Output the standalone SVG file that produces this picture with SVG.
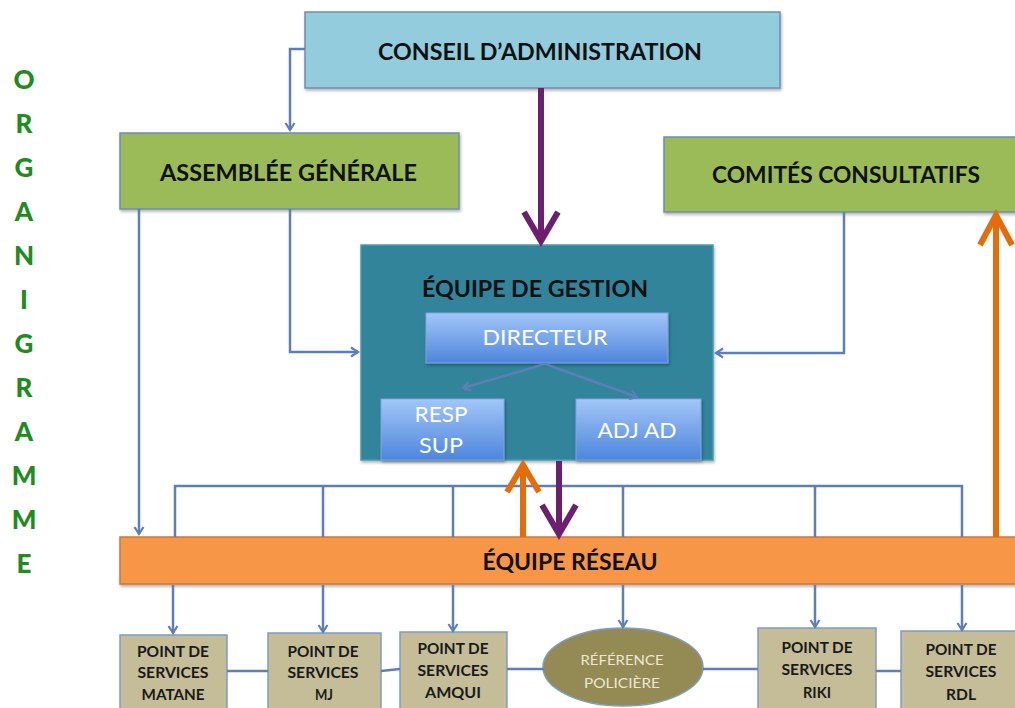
<svg xmlns="http://www.w3.org/2000/svg" width="1015" height="708" viewBox="0 0 1015 708">
  <style>
    .t { font-family: Lato, "Open Sans", "Liberation Sans", sans-serif; font-weight: bold; fill: #111; text-anchor: middle; }
    .big { font-size: 23px; }
    .w { font-family: Lato, "Open Sans", "Liberation Sans", sans-serif; fill: #fff; text-anchor: middle; font-size: 22px; }
    .sm { font-family: Lato, "Open Sans", "Liberation Sans", sans-serif; font-weight: bold; fill: #1a1a1a; text-anchor: middle; font-size: 15px; }
    .el { font-family: Lato, "Open Sans", "Liberation Sans", sans-serif; fill: #ece8d4; text-anchor: middle; font-size: 14px; }
    .let { font-family: Lato, "Open Sans", "Liberation Sans", sans-serif; font-weight: 900; fill: #218a21; text-anchor: middle; font-size: 26px; }
    .conn { fill: none; stroke: #5b7fb6; stroke-width: 2.5; }
    .arr { marker-end: url(#ah); }
    .purple { fill: none; stroke: #6c1f6f; stroke-width: 6; }
    .orange { fill: none; stroke: #e46c0a; stroke-width: 6; }
    .svc { fill: #c4bd97; stroke: #7d9cc2; stroke-width: 1.5; }
    .green { fill: #9bbb59; stroke: #6d8fb3; stroke-width: 1.5; }
    .sub { fill: url(#bg); stroke: #7fa5de; stroke-width: 1; }
  </style>
  <defs>
    <linearGradient id="bg" x1="0" y1="0" x2="0" y2="1">
      <stop offset="0" stop-color="#a3c6f8"/>
      <stop offset="1" stop-color="#4d86dc"/>
    </linearGradient>
    <filter id="sh" x="-5%" y="-5%" width="115%" height="125%">
      <feDropShadow dx="1" dy="2" stdDeviation="1.5" flood-color="#000" flood-opacity="0.3"/>
    </filter>
    <marker id="ah" markerWidth="12" markerHeight="12" refX="9" refY="6" orient="auto" markerUnits="userSpaceOnUse">
      <path d="M2,1.5 L9,6 L2,10.5" fill="none" stroke="#5b7fb6" stroke-width="2.2"/>
    </marker>
  </defs>

  <rect width="1015" height="708" fill="#fff"/>

  <g id="title">
    <text class="let" x="24" y="89">O</text>
    <text class="let" x="24" y="133">R</text>
    <text class="let" x="24" y="177">G</text>
    <text class="let" x="24" y="221">A</text>
    <text class="let" x="24" y="265">N</text>
    <text class="let" x="24" y="309">I</text>
    <text class="let" x="24" y="353">G</text>
    <text class="let" x="24" y="397">R</text>
    <text class="let" x="24" y="441">A</text>
    <text class="let" x="24" y="485">M</text>
    <text class="let" x="24" y="529">M</text>
    <text class="let" x="24" y="573">E</text>
  </g>

  <g id="conseil">
    <rect x="305" y="12" width="475" height="76" fill="#93cddd" stroke="#6d8fb3" stroke-width="1.5" filter="url(#sh)"/>
    <text class="t big" x="540" y="60" textLength="324" lengthAdjust="spacingAndGlyphs">CONSEIL D’ADMINISTRATION</text>
  </g>

  <g id="assemblee">
    <rect class="green" x="120" y="133" width="339" height="76" filter="url(#sh)"/>
    <text class="t big" x="288.5" y="181" textLength="257" lengthAdjust="spacingAndGlyphs">ASSEMBLÉE GÉNÉRALE</text>
  </g>

  <g id="comites">
    <rect class="green" x="664" y="137" width="355" height="75" filter="url(#sh)"/>
    <text class="t big" x="846" y="183" textLength="268" lengthAdjust="spacingAndGlyphs">COMITÉS CONSULTATIFS</text>
  </g>

  <g id="gestion">
    <rect x="361" y="245" width="352" height="215" fill="#31849b" stroke="#4a9ab0" stroke-width="1.5" filter="url(#sh)"/>
    <text class="t big" x="535" y="297" textLength="226" lengthAdjust="spacingAndGlyphs">ÉQUIPE DE GESTION</text>
  </g>

  <g id="directeur">
    <rect class="sub" x="426" y="313" width="242" height="50" filter="url(#sh)"/>
    <text class="w" x="545" y="345" textLength="125" lengthAdjust="spacingAndGlyphs">DIRECTEUR</text>
  </g>

  <g id="resp-sup">
    <rect class="sub" x="381" y="399" width="123" height="61" filter="url(#sh)"/>
    <text class="w" x="441" y="422" textLength="53" lengthAdjust="spacingAndGlyphs">RESP</text>
    <text class="w" x="441" y="453" textLength="44" lengthAdjust="spacingAndGlyphs">SUP</text>
  </g>

  <g id="adj-ad">
    <rect class="sub" x="576" y="399" width="125" height="61" filter="url(#sh)"/>
    <text class="w" x="637" y="438" textLength="79" lengthAdjust="spacingAndGlyphs">ADJ AD</text>
  </g>

  <g id="reseau">
    <rect x="120" y="537" width="899" height="47" fill="#f79646" stroke="#c8783c" stroke-width="1.5" filter="url(#sh)"/>
    <text class="t" style="font-size:22px" x="570" y="570" textLength="175" lengthAdjust="spacingAndGlyphs">ÉQUIPE RÉSEAU</text>
  </g>

  <g id="matane">
    <rect class="svc" x="120" y="635" width="107" height="78"/>
    <text class="sm" x="173" y="657" textLength="72" lengthAdjust="spacingAndGlyphs">POINT DE</text>
    <text class="sm" x="173" y="678" textLength="71" lengthAdjust="spacingAndGlyphs">SERVICES</text>
    <text class="sm" x="173" y="700" textLength="63" lengthAdjust="spacingAndGlyphs">MATANE</text>
  </g>

  <g id="mj">
    <rect class="svc" x="268" y="633" width="113" height="80"/>
    <text class="sm" x="323" y="657" textLength="71" lengthAdjust="spacingAndGlyphs">POINT DE</text>
    <text class="sm" x="323" y="678" textLength="71" lengthAdjust="spacingAndGlyphs">SERVICES</text>
    <text class="sm" x="324" y="700" textLength="18" lengthAdjust="spacingAndGlyphs">MJ</text>
  </g>

  <g id="amqui">
    <rect class="svc" x="400" y="632" width="107" height="81"/>
    <text class="sm" x="453" y="654" textLength="71" lengthAdjust="spacingAndGlyphs">POINT DE</text>
    <text class="sm" x="453" y="676" textLength="71" lengthAdjust="spacingAndGlyphs">SERVICES</text>
    <text class="sm" x="453" y="698" textLength="56" lengthAdjust="spacingAndGlyphs">AMQUI</text>
  </g>

  <g id="reference">
    <ellipse cx="623" cy="667" rx="80" ry="39" fill="#948a54" stroke="#7d9cc2" stroke-width="1.5"/>
    <text class="el" x="622" y="665" textLength="83" lengthAdjust="spacingAndGlyphs">RÉFÉRENCE</text>
    <text class="el" x="622" y="688" textLength="76" lengthAdjust="spacingAndGlyphs">POLICIÈRE</text>
  </g>

  <g id="riki">
    <rect class="svc" x="758" y="628" width="118" height="85"/>
    <text class="sm" x="817" y="653" textLength="71" lengthAdjust="spacingAndGlyphs">POINT DE</text>
    <text class="sm" x="817" y="675" textLength="71" lengthAdjust="spacingAndGlyphs">SERVICES</text>
    <text class="sm" x="817" y="698" textLength="28" lengthAdjust="spacingAndGlyphs">RIKI</text>
  </g>

  <g id="rdl">
    <rect class="svc" x="901" y="631" width="118" height="82"/>
    <text class="sm" x="961" y="655" textLength="71" lengthAdjust="spacingAndGlyphs">POINT DE</text>
    <text class="sm" x="961" y="677" textLength="71" lengthAdjust="spacingAndGlyphs">SERVICES</text>
    <text class="sm" x="961" y="700" textLength="30" lengthAdjust="spacingAndGlyphs">RDL</text>
  </g>

  <g id="connectors">
    <path class="conn arr" d="M305,49 H290 V130"/>
    <path class="conn arr" d="M139,209 V534"/>
    <path class="conn arr" d="M290,209 V352 H358"/>
    <path class="conn arr" d="M844,212 V353 H716"/>
    <path class="conn" d="M175,537 V486 H962 V537 M323,486 V537 M453,486 V537 M623,486 V537 M815,486 V537"/>
    <path class="conn arr" d="M173,585 V633"/>
    <path class="conn arr" d="M323,585 V632"/>
    <path class="conn arr" d="M453,585 V631"/>
    <path class="conn arr" d="M623,585 V627"/>
    <path class="conn arr" d="M815,585 V627"/>
    <path class="conn arr" d="M962,585 V630"/>
    <path class="conn" d="M227,671 H268 M381,671 L400,669 M507,669 H544 M703,669 H758 M876,671 H901"/>
    <path class="conn arr" d="M545,364 L463,388"/>
    <path class="conn arr" d="M545,364 L637,397"/>
    <path class="purple" d="M541,88 V240 M524,212 L541,241 L558,212"/>
    <path class="purple" d="M559,461 V533 M542,505 L559,534 L576,505"/>
    <path class="orange" d="M523,537 V466 M507,492 L523,465 L539,492"/>
    <path class="orange" d="M996,537 V216 M980,245 L996,215 L1012,245"/>
  </g>
</svg>
